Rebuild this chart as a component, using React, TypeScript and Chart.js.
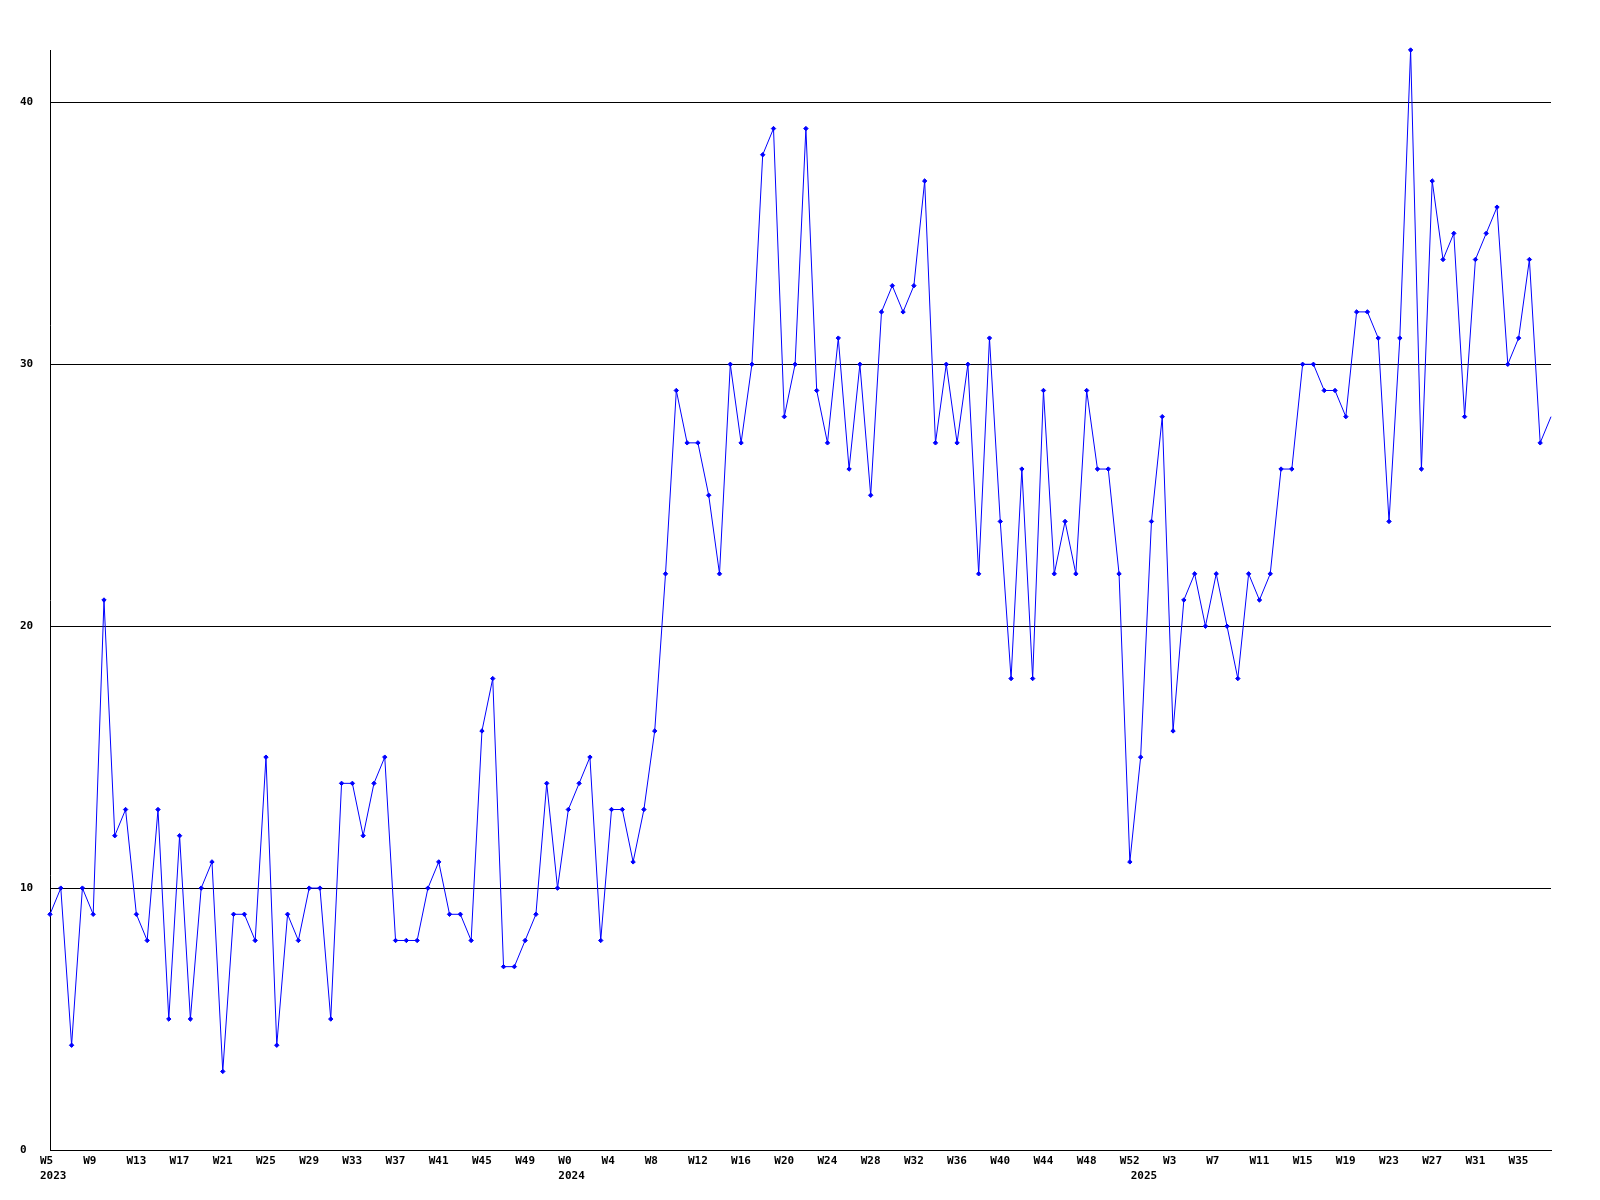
import React, { useEffect, useRef } from 'react';
import { Chart, registerables } from 'chart.js';

Chart.register(...registerables);

// Weekly values
const firstWeek2023 = 5;
const values2023 = [
  9, 10, 4, 10, 9, 21, 12, 13, 9, 8,
  13, 5, 12, 5, 10, 11, 3, 9, 9, 8,
  15, 4, 9, 8, 10, 10, 5, 14, 14, 12,
  14, 15, 8, 8, 8, 10, 11, 9, 9, 8,
  16, 18, 7, 7, 8, 9, 14, 10,
];
const firstWeek2024 = 0;
const values2024 = [
  13, 14, 15, 8, 13, 13, 11, 13, 16, 22,
  29, 27, 27, 25, 22, 30, 27, 30, 38, 39,
  28, 30, 39, 29, 27, 31, 26, 30, 25, 32,
  33, 32, 33, 37, 27, 30, 27, 30, 22, 31,
  24, 18, 26, 18, 29, 22, 24, 22, 29, 26,
  26, 22, 11,
];
const firstWeek2025 = 0;
const values2025 = [
  15, 24, 28, 16, 21, 22, 20, 22, 20, 18,
  22, 21, 22, 26, 26, 30, 30, 29, 29, 28,
  32, 32, 31, 24, 31, 42, 26, 37, 34, 35,
  28, 34, 35, 36, 30, 31, 34, 27, 28,
];
const years = ['2023', '2024', '2025'];
const yTickValues = [0, 10, 20, 30, 40];
const yMax = 42;
const labelEvery = 4;

type Slot = { week: string; year: string | null };

function buildSlots(): Slot[] {
  const out: Slot[] = [];
  const groups: [number[], number, string][] = [
    [values2023, firstWeek2023, years[0]],
    [values2024, firstWeek2024, years[1]],
    [values2025, firstWeek2025, years[2]],
  ];
  groups.forEach(([vals, first, year]) => {
    vals.forEach((_, i) => {
      out.push({ week: 'W' + (first + i), year: i === 0 ? year : null });
    });
  });
  return out;
}

export default function App() {
  const ref = useRef<HTMLCanvasElement | null>(null);

  useEffect(() => {
    if (!ref.current) return;
    const slots = buildSlots();
    const values = [...values2023, ...values2024, ...values2025];
    const labels = slots.map((s) => s.week);
    const lastIndex = values.length - 1;

    const chart = new Chart(ref.current, {
      type: 'line',
      data: {
        labels,
        datasets: [
          {
            data: values,
            borderColor: 'rgb(0,0,255)',
            backgroundColor: 'rgb(0,0,255)',
            borderWidth: 1,
            tension: 0,
            fill: false,
            clip: false,
            pointStyle: 'rectRot',
            pointRadius: (ctx: any) => (ctx.dataIndex === lastIndex ? 0 : 2.2),
            pointBorderWidth: 1,
            pointBorderColor: 'rgb(0,0,255)',
            pointBackgroundColor: 'rgb(0,0,255)',
          },
        ],
      },
      options: {
        responsive: false,
        animation: false,
        events: [],
        layout: { padding: { left: 20, right: 49, top: 50, bottom: 0 } },
        plugins: {
          legend: { display: false },
          tooltip: { enabled: false },
          title: { display: false },
        },
        scales: {
          x: {
            type: 'category',
            offset: false,
            grid: { display: false, drawTicks: false },
            border: { display: true, color: '#000', width: 1 },
            afterFit: (scale: any) => {
              scale.height = 50;
            },
            ticks: {
              autoSkip: false,
              maxRotation: 0,
              minRotation: 0,
              align: 'start',
              labelOffset: -10,
              padding: 4,
              color: '#000',
              font: { family: 'DejaVu Sans Mono', size: 11, weight: 'bold', lineHeight: 1.36 },
              callback: (_v: any, index: number) => {
                const s = slots[index];
                const w = index % labelEvery === 0 ? s.week : '';
                if (s.year) return [w, s.year];
                return w;
              },
            },
          },
          y: {
            min: 0,
            max: yMax,
            grid: { display: true, color: '#000', lineWidth: 1, drawTicks: false },
            border: { display: true, color: '#000', width: 1 },
            afterBuildTicks: (scale: any) => {
              scale.ticks = yTickValues.map((v) => ({ value: v }));
            },
            afterFit: (scale: any) => {
              scale.width = 30;
            },
            ticks: {
              crossAlign: 'far',
              padding: 0,
              color: '#000',
              font: { family: 'DejaVu Sans Mono', size: 11, weight: 'bold' },
            },
          },
        },
      },
    } as any);

    return () => chart.destroy();
  }, []);

  return (
    <div style={{ position: 'absolute', left: 0, top: 0, width: 1600, height: 1200, background: '#fff' }}>
      <canvas ref={ref} width={1600} height={1200} />
    </div>
  );
}
